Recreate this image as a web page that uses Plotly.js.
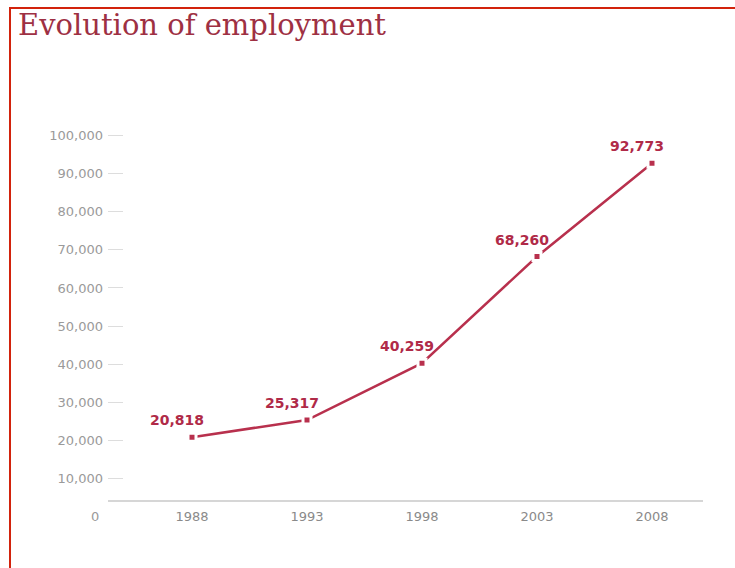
<!DOCTYPE html>
<html>
<head>
<meta charset="utf-8">
<script src="https://cdn.plot.ly/plotly-3.0.1.min.js"></script>
<style>
  html, body { margin: 0; padding: 0; background: #fff; }
  #wrap { position: relative; width: 735px; height: 568px; overflow: hidden; }
  #chart { width: 735px; height: 568px; }
  #frame { position: absolute; left: 9px; top: 7px; width: 740px; height: 570px;
           border-top: 2px solid #d2230c; border-left: 2px solid #d2230c; pointer-events: none; }
</style>
</head>
<body>
<div id="wrap">
  <div id="chart"></div>
  <div id="frame"></div>
</div>
<script>
// ---- data ----
const years = ["1988", "1993", "1998", "2003", "2008"];
const employment = [20818, 25317, 40259, 68260, 92773];
const yTickValues = [10000, 20000, 30000, 40000, 50000, 60000, 70000, 80000, 90000, 100000];
const chartTitle = "Evolution of employment";

const lineColor = "#b8304d";
const labelColor = "#b02a48";

const trace = {
  type: "scatter",
  mode: "lines+markers",
  x: years,
  y: employment,
  line: { color: lineColor, width: 2.5 },
  marker: { symbol: "square", size: 8, color: lineColor, line: { color: "#ffffff", width: 3 } },
  hoverinfo: "x+y",
  cliponaxis: false
};

const fmt = v => v.toLocaleString("en-US");

// category axes place annotations by category index
const annotations = years.map((yr, i) => ({
  x: i, y: employment[i], xref: "x", yref: "y",
  text: "<b>" + fmt(employment[i]) + "</b>",
  showarrow: false,
  xanchor: "center", yanchor: "middle",
  xshift: -15, yshift: 17,
  font: { family: "DejaVu Sans", size: 14, color: labelColor }
}));

// "0" label of the value axis, sitting in the row of the year labels
annotations.push({
  x: -0.012, y: -0.043, xref: "paper", yref: "paper",
  text: "0", showarrow: false, xanchor: "right", yanchor: "middle",
  font: { family: "DejaVu Sans", size: 13, color: "#9a9a9a" }
});

const layout = {
  width: 735, height: 568,
  margin: { l: 108, r: 32, t: 120, b: 68 },
  paper_bgcolor: "#ffffff",
  plot_bgcolor: "#ffffff",
  showlegend: false,
  title: {
    text: chartTitle,
    xref: "container", yref: "container",
    x: 18 / 735, xanchor: "left",
    y: 1 - 25 / 568, yanchor: "middle",
    font: { family: "DejaVu Serif", size: 29, color: "#9e3043" }
  },
  xaxis: {
    type: "category",
    range: [-0.7304, 4.4435],
    showgrid: false, zeroline: false,
    showline: true, linecolor: "#d6d6d6", linewidth: 1.5,
    ticks: "", ticklabelstandoff: 4,
    tickfont: { family: "DejaVu Sans", size: 13, color: "#8a8a8a" },
    fixedrange: true
  },
  yaxis: {
    range: [4308, 104124],
    tickvals: yTickValues,
    tickformat: ",d",
    showgrid: false, zeroline: false, showline: false,
    ticks: "inside", ticklen: 15, tickwidth: 1, tickcolor: "#dddddd",
    ticklabelstandoff: 4,
    tickfont: { family: "DejaVu Sans", size: 13, color: "#9a9a9a" },
    fixedrange: true
  },
  annotations: annotations
};

Plotly.newPlot("chart", [trace], layout, { displayModeBar: false });
</script>
</body>
</html>
